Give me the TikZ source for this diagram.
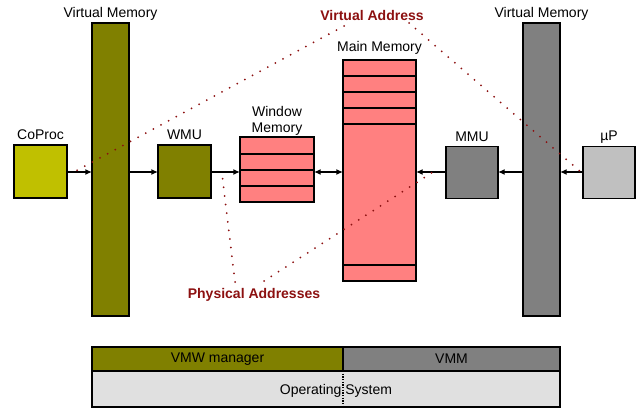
\documentclass[tikz,border=0pt]{standalone}
\usepackage{fontspec}
\setmainfont{Liberation Sans}
\usetikzlibrary{arrows.meta}
\definecolor{olivec}{RGB}{128,128,0}
\definecolor{coprocc}{RGB}{192,192,0}
\definecolor{pinkc}{RGB}{255,128,128}
\definecolor{grayc}{RGB}{128,128,128}
\definecolor{lgrayc}{RGB}{192,192,192}
\definecolor{osc}{RGB}{224,224,224}
\definecolor{redc}{RGB}{140,16,16}
\tikzset{
  blk/.style={draw=black, line width=1.3pt, inner sep=0pt, outer sep=0pt},
  lbl/.style={font=\fontsize{10.5}{12}\selectfont, inner sep=0pt, text=black},
  addr/.style={font=\fontsize{10.5}{12}\selectfont\bfseries, inner sep=0pt, text=redc},
  arr/.style={line width=1.1pt, -{Latex[length=5pt,width=4.5pt]}},
  darr/.style={line width=1.1pt, {Latex[length=5pt,width=4.5pt]}-{Latex[length=5pt,width=4.5pt]}},
  dots/.style={draw=redc, line width=1.5pt, line cap=round, dash pattern=on 0pt off 6.5pt},
  stripe/.style={line width=1.3pt}
}
\begin{document}
\begin{tikzpicture}[x=0.75pt, y=-0.75pt]
\useasboundingbox (0,0) rectangle (641,409);
% blocks
\node[blk, fill=olivec, minimum width=27.75pt, minimum height=219.75pt] (vml) at (110.5,169.5) {};
\node[blk, fill=coprocc, minimum width=39.75pt, minimum height=39.75pt] (coproc) at (40.5,171.5) {};
\node[blk, fill=olivec, minimum width=39.75pt, minimum height=39.75pt] (wmu) at (184.5,171.5) {};
\node[blk, fill=pinkc, minimum width=55.5pt, minimum height=48.75pt] (win) at (277,169.5) {};
\node[blk, fill=pinkc, minimum width=54.75pt, minimum height=165.75pt] (mm) at (379.5,170.5) {};
\node[blk, fill=grayc, minimum width=39pt, minimum height=39pt] (mmu) at (472,172.5) {};
\node[blk, fill=grayc, minimum width=27.75pt, minimum height=219.75pt] (vmr) at (541.5,169.5) {};
\node[blk, fill=lgrayc, minimum width=39pt, minimum height=39pt] (up) at (609,172.5) {};
% stripes
\foreach \yy in {154,170,186} \draw[stripe] (win.west |- 0,\yy) -- (win.east |- 0,\yy);
\foreach \yy in {76,92,108,124,265} \draw[stripe] (mm.west |- 0,\yy) -- (mm.east |- 0,\yy);
% labels
\node[lbl] (vmll) at (110.5,14) {Virtual Memory};
\node[lbl] (vmrl) at (541.5,14) {Virtual Memory};
\node[lbl] (coprocl) at (40.5,135) {CoProc};
\node[lbl] (wmul) at (184.5,135) {WMU};
\node[lbl, align=center] (winl) at (277,121) {Window\\Memory};
\node[lbl] (mml) at (379.5,48) {Main Memory};
\node[lbl] (mmul) at (472,137) {MMU};
\node[lbl] (upl) at (609,137) {µP};
% arrows
\draw[arr] (coproc.east |- 0,172) -- (vml.west |- 0,172);
\draw[arr] (vml.east |- 0,172) -- (wmu.west |- 0,172);
\draw[arr] (wmu.east |- 0,172) -- (win.west |- 0,172);
\draw[darr] (win.east |- 0,172) -- (mm.west |- 0,172);
\draw[arr] (mmu.west |- 0,172) -- (mm.east |- 0,172);
\draw[arr] (vmr.west |- 0,172) -- (mmu.east |- 0,172);
\draw[arr] (up.west |- 0,172) -- (vmr.east |- 0,172);
% bottom bars
\node[blk, fill=olivec, minimum width=188.25pt, minimum height=18pt, anchor=north west] (vmw) at (92,347) {};
\node[lbl] at (vmw.center) {VMW manager};
\node[blk, fill=grayc, minimum width=162.75pt, minimum height=18pt, anchor=north west] (vmm) at (343,347) {};
\node[lbl] at (vmm.center) {VMM};
\node[blk, fill=osc, minimum width=351pt, minimum height=27pt, anchor=north west] (os) at (92,371) {};
\draw[line width=0.8pt, dash pattern=on 1pt off 1pt] (vmw.south east) -- (vmw.south east |- os.south);
\node[lbl] (osl) at (336,391) {Operating System};
% address labels and dotted lines
\node[addr] (va) at (372,16) {Virtual Address};
\node[addr] (pa) at (254,295) {Physical Addresses};
\coordinate (va1) at (344,26);
\coordinate (va2) at (409,23);
\coordinate (c1) at (74,172);
\coordinate (c2) at (582,173);
\coordinate (pa1) at (235,282);
\coordinate (pa2) at (264,281);
\coordinate (p1) at (222,174);
\coordinate (p2) at (433,172);
\draw[dots] (va1) -- (c1);
\draw[dots] (va2) -- (c2);
\draw[dots] (pa1) -- (p1);
\draw[dots] (pa2) -- (p2);
\end{tikzpicture}
\end{document}
